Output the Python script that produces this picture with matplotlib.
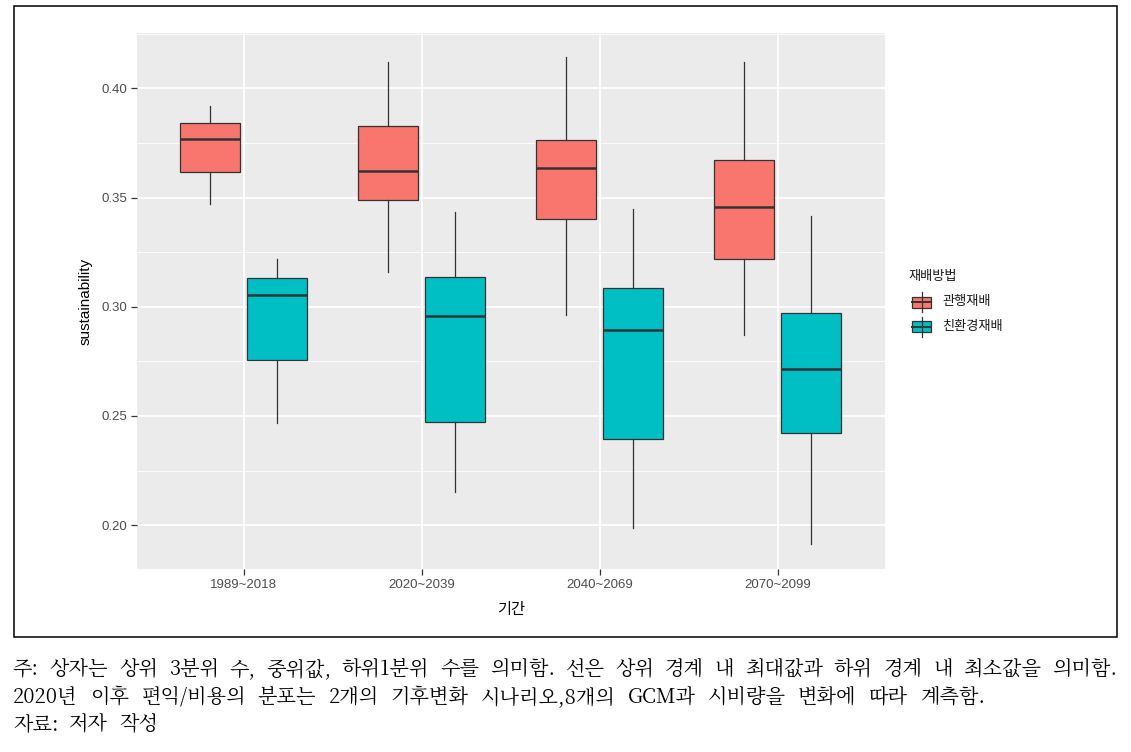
import matplotlib
matplotlib.use("Agg")
import matplotlib.pyplot as plt
import matplotlib.patches as mpatches
import matplotlib.lines as mlines
from matplotlib.ticker import MultipleLocator

plt.rcParams['font.family'] = ['Liberation Sans', 'Noto Sans CJK KR']

periods = ['1989~2018', '2020~2039', '2040~2069', '2070~2099']
methods = ['관행재배', '친환경재배']
colors = ['#F8766D', '#00BFC4']

# whisker low, Q1, median, Q3, whisker high
conv_low = [0.3469, 0.3159, 0.2961, 0.2869]
conv_q1 = [0.3615, 0.3487, 0.3402, 0.3219]
conv_med = [0.3766, 0.3623, 0.3637, 0.3459]
conv_q3 = [0.3843, 0.3827, 0.3763, 0.3670]
conv_high = [0.3920, 0.4121, 0.4145, 0.4121]

eco_low = [0.2468, 0.2150, 0.1989, 0.1912]
eco_q1 = [0.2758, 0.2473, 0.2393, 0.2421]
eco_med = [0.3052, 0.2956, 0.2894, 0.2716]
eco_q3 = [0.3133, 0.3136, 0.3087, 0.2972]
eco_high = [0.3220, 0.3435, 0.3446, 0.3415]

note_lines = [
    '주: 상자는 상위 3분위 수, 중위값, 하위1분위 수를 의미함. 선은 상위 경계 내 최대값과 하위 경계 내 최소값을 의미함.',
    '2020년 이후 편익/비용의 분포는 2개의 기후변화 시나리오,8개의 GCM과 시비량을 변화에 따라 계측함.',
    '자료: 저자 작성',
]

W, H = 1131, 752
fig = plt.figure(figsize=(W / 100, H / 100), dpi=100)


def fx(x):
    return x / W


def fy(y):
    return 1 - y / H


# outer frame around the chart
fig.add_artist(mpatches.Rectangle((fx(14), fy(637)), (1117 - 14) / W, (637 - 6) / H,
                                  transform=fig.transFigure, fill=False, ec='black', lw=1.1))

ax = fig.add_axes([fx(136.7), fy(569.3), 747.8 / W, 536 / H])
ax.set_facecolor('#EBEBEB')
for s in ax.spines.values():
    s.set_visible(False)

series = [
    (conv_low, conv_q1, conv_med, conv_q3, conv_high),
    (eco_low, eco_q1, eco_med, eco_q3, eco_high),
]
offsets = [-0.1875, 0.1875]
for k, (lo, q1, med, q3, hi) in enumerate(series):
    stats = []
    for i in range(len(periods)):
        stats.append({'whislo': lo[i], 'q1': q1[i], 'med': med[i], 'q3': q3[i],
                      'whishi': hi[i], 'fliers': []})
    pos = [i + 1 + offsets[k] for i in range(len(periods))]
    ax.bxp(stats, positions=pos, widths=0.3375, patch_artist=True, showcaps=False,
           manage_ticks=False,
           boxprops=dict(facecolor=colors[k], edgecolor='#333333', lw=0.9),
           whiskerprops=dict(color='#333333', lw=0.9),
           medianprops=dict(color='#333333', lw=1.8), zorder=3)

ax.set_xlim(0.4, 4.6)
ax.set_ylim(0.1798, 0.4252)
ax.set_xticks(range(1, len(periods) + 1))
ax.set_xticklabels(periods)
ax.yaxis.set_major_locator(MultipleLocator(0.05))
ax.yaxis.set_minor_locator(MultipleLocator(0.025))
ax.yaxis.set_major_formatter(lambda v, p: f'{v:.2f}')
ax.grid(which='major', color='white', lw=1.3, zorder=0)
ax.grid(which='minor', axis='y', color='white', lw=0.6, zorder=0)
ax.set_axisbelow(True)
ax.tick_params(which='major', length=4, width=0.9, color='#333333',
               labelsize=9.5, labelcolor='#4D4D4D', pad=3)
ax.tick_params(which='minor', length=0)

ax.set_ylabel('sustainability', fontsize=11, color='black')
ax.yaxis.set_label_coords(-0.0584, 0.5)
ax.set_xlabel('기간', fontsize=11, color='black')
ax.xaxis.set_label_coords(0.5, -0.063)

# legend drawn by hand (ggplot style box glyphs)
fig.text(fx(908), fy(277), '재배방법', fontsize=9.5, va='center', ha='left', color='#1A1A1A')
for k, (name, c) in enumerate(zip(methods, colors)):
    yc = 302 + 25 * k
    fig.add_artist(mlines.Line2D([fx(921.5)] * 2, [fy(yc - 10), fy(yc + 10)],
                                 color='#333333', lw=0.9, transform=fig.transFigure))
    fig.add_artist(mpatches.Rectangle((fx(912), fy(yc + 5.5)), 19 / W, 11 / H,
                                      fc=c, ec='#333333', lw=0.9, transform=fig.transFigure))
    fig.add_artist(mlines.Line2D([fx(912), fx(931)], [fy(yc)] * 2,
                                 color='#333333', lw=1.4, transform=fig.transFigure))
    fig.text(fx(942), fy(yc), name, fontsize=9.5, va='center', ha='left', color='#1A1A1A')

# justified footnote lines
fig.canvas.draw()
renderer = fig.canvas.get_renderer()
spans = [(13, 1117), (13, 985), (13, 158)]
ys = [669, 697, 724]
for line, (x0, x1), y in zip(note_lines, spans, ys):
    words = line.split(' ')
    arts = [fig.text(0, fy(y), w, fontsize=14.5, weight='medium',
                     family=['Noto Serif CJK KR', 'Noto Sans CJK KR'],
                     va='center', ha='left') for w in words]
    widths = [a.get_window_extent(renderer).width for a in arts]
    gap = (x1 - x0 - sum(widths)) / max(len(words) - 1, 1)
    x = x0
    for a, w in zip(arts, widths):
        a.set_x(fx(x))
        x += w + gap

fig.savefig('out.png', dpi=100)
